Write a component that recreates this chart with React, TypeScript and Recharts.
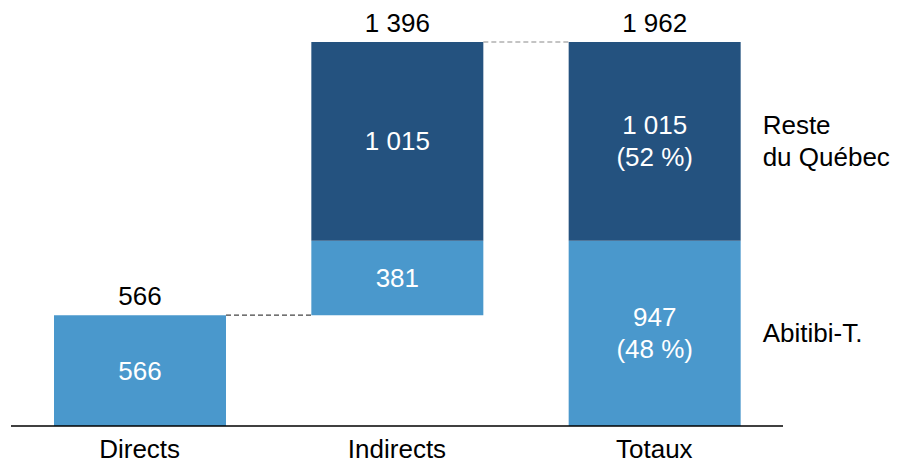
import React from 'react';
import { BarChart, Bar, XAxis, YAxis, LabelList } from 'recharts';

const categories = ['Directs', 'Indirects', 'Totaux'];
const baseValues = [0, 566, 0];
const abitibiValues = [566, 381, 947];
const resteValues = [0, 1015, 1015];
const topLabels = ['566', '1 396', '1 962'];
const abitibiLabels = [['566'], ['381'], ['947', '(48 %)']];
const resteLabels = [[], ['1 015'], ['1 015', '(52 %)']];
const seriesNames = { reste: ['Reste', 'du Québec'], abitibi: ['Abitibi-T.'] };

const data = categories.map((c, i) => ({
  name: c,
  base: baseValues[i],
  abitibi: abitibiValues[i],
  reste: resteValues[i],
}));

const W = 897;
const H = 464;
const MARGIN = { top: 42, right: 114, bottom: 6, left: 11 };
const BAR = 172;
const STEP = (W - MARGIN.left - MARGIN.right) / categories.length;
const GAP = STEP - BAR;
const FONT = 'Liberation Sans, Arial, sans-serif';
const FS = 26;
const LIGHT = '#4A98CC';
const DARK = '#24527F';
const LINE_H = 32;
const connectorStyles = [
  { stroke: '#444444', dash: '5 3' },
  { stroke: '#8a8a8a', dash: '5 3' },
];

function Lines({ lines, cx, cy, fill, anchor = 'middle' }: any) {
  const n = lines.length;
  return (
    <g>
      {lines.map((t: string, k: number) => (
        <text
          key={k}
          x={cx}
          y={cy + (k - (n - 1) / 2) * LINE_H}
          fill={fill}
          textAnchor={anchor}
          dominantBaseline="central"
          fontFamily={FONT}
          fontSize={FS}
        >
          {t}
        </text>
      ))}
    </g>
  );
}

function TopLabel({ i, x, y, width }: any) {
  const conn = connectorStyles[i];
  return (
    <g>
      <text
        x={x + width / 2}
        y={y - 10}
        textAnchor="middle"
        fontFamily={FONT}
        fontSize={FS}
        fill="#000"
      >
        {topLabels[i]}
      </text>
      {conn && (
        <line
          x1={x + width}
          x2={x + width + GAP}
          y1={y}
          y2={y}
          stroke={conn.stroke}
          strokeWidth={1.2}
          strokeDasharray={conn.dash}
        />
      )}
    </g>
  );
}

const abitibiLabel = (props: any) => {
  const { x, y, width, height, value } = props;
  const i = categories.indexOf(value);
  const cx = x + width / 2;
  const cy = y + height / 2;
  return (
    <g>
      <Lines lines={abitibiLabels[i]} cx={cx} cy={cy} fill="#ffffff" />
      {resteValues[i] === 0 && <TopLabel i={i} x={x} y={y} width={width} />}
      {i === categories.length - 1 && (
        <Lines lines={seriesNames.abitibi} cx={x + width + 22} cy={cy} fill="#000" anchor="start" />
      )}
    </g>
  );
};

const resteLabel = (props: any) => {
  const { x, y, width, height, value } = props;
  const i = categories.indexOf(value);
  if (resteValues[i] === 0) return null;
  const cx = x + width / 2;
  const cy = y + height / 2;
  return (
    <g>
      <Lines lines={resteLabels[i]} cx={cx} cy={cy} fill="#ffffff" />
      <TopLabel i={i} x={x} y={y} width={width} />
      {i === categories.length - 1 && (
        <Lines lines={seriesNames.reste} cx={x + width + 22} cy={cy} fill="#000" anchor="start" />
      )}
    </g>
  );
};

export default function App() {
  return (
    <div style={{ position: 'absolute', left: 0, top: 0, width: W, height: H, background: '#fff' }}>
      <BarChart width={W} height={H} data={data} margin={MARGIN} barSize={BAR}>
        <XAxis
          dataKey="name"
          tickLine={false}
          tickSize={12}
          tickMargin={2}
          height={32}
          axisLine={{ stroke: '#000', strokeWidth: 1.5 }}
          tick={{ fill: '#000', fontSize: FS, fontFamily: FONT }}
          interval={0}
        />
        <YAxis hide domain={[0, 1962]} />
        <Bar dataKey="base" stackId="s" fill="transparent" isAnimationActive={false} />
        <Bar dataKey="abitibi" stackId="s" fill={LIGHT} isAnimationActive={false}>
          <LabelList dataKey="name" content={abitibiLabel} />
        </Bar>
        <Bar dataKey="reste" stackId="s" fill={DARK} isAnimationActive={false}>
          <LabelList dataKey="name" content={resteLabel} />
        </Bar>
      </BarChart>
    </div>
  );
}
